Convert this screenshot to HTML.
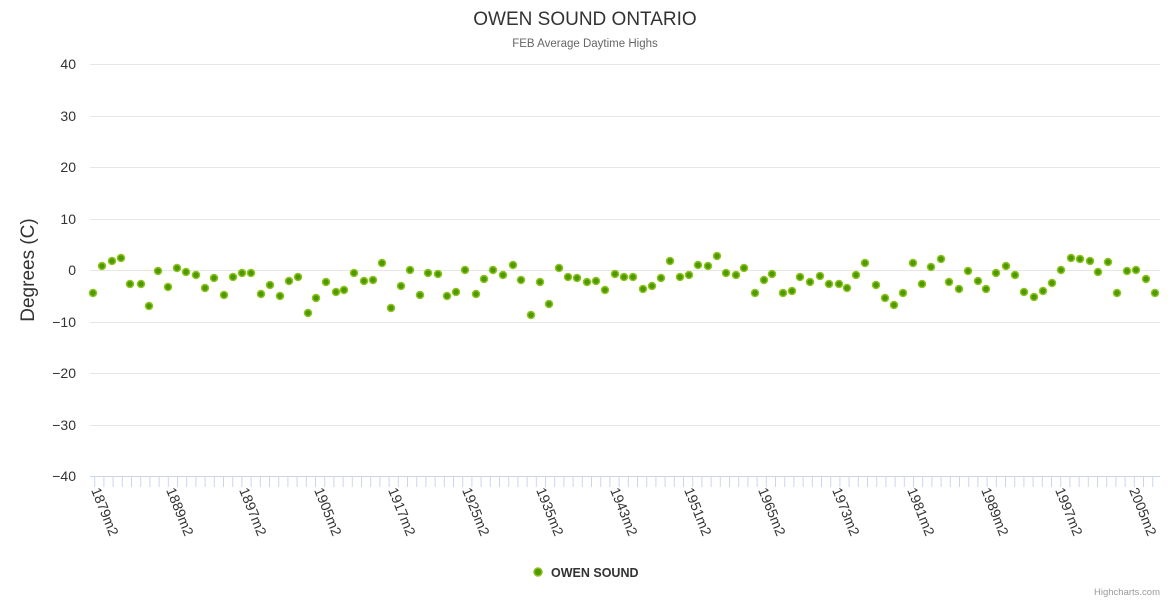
<!DOCTYPE html>
<html><head><meta charset="utf-8"><style>
html,body{margin:0;padding:0;background:#fff;}
svg{display:block;font-family:"Liberation Sans",sans-serif;}
</style></head><body>
<svg width="1170" height="600" viewBox="0 0 1170 600" xmlns="http://www.w3.org/2000/svg">
<text x="585" y="25" text-anchor="middle" font-size="19" fill="#333">OWEN SOUND ONTARIO</text>
<text x="585" y="47" text-anchor="middle" font-size="11.5" fill="#666">FEB Average Daytime Highs</text>
<g stroke="#e6e6e6" stroke-width="1">
<line x1="90" x2="1160" y1="64.5" y2="64.5"/><line x1="90" x2="1160" y1="116.5" y2="116.5"/>
<line x1="90" x2="1160" y1="167.5" y2="167.5"/><line x1="90" x2="1160" y1="219.5" y2="219.5"/>
<line x1="90" x2="1160" y1="270.5" y2="270.5"/><line x1="90" x2="1160" y1="322.5" y2="322.5"/>
<line x1="90" x2="1160" y1="373.5" y2="373.5"/><line x1="90" x2="1160" y1="425.5" y2="425.5"/>
</g>
<line x1="90" x2="1160" y1="476.5" y2="476.5" stroke="#ccd6eb"/>
<g id="ticks" stroke="#ccd6eb"></g>
<g font-size="14" fill="#333" text-anchor="end">
<text x="76" y="69">40</text><text x="76" y="121">30</text><text x="76" y="172">20</text>
<text x="76" y="224">10</text><text x="76" y="275">0</text><text x="76" y="327">−10</text>
<text x="76" y="378">−20</text><text x="76" y="430">−30</text><text x="76" y="481">−40</text>
</g>
<text transform="translate(34,270) rotate(-90)" text-anchor="middle" font-size="19" fill="#333">Degrees (C)</text>
<g id="xl" font-size="14" fill="#333"></g>
<g id="pts"></g>
<circle cx="538" cy="572" r="4" fill="#4d9a00" stroke="#8fc31f" stroke-width="1.5"/>
<text x="551" y="577" font-size="12.5" font-weight="bold" fill="#333">OWEN SOUND</text>
<text x="1160" y="595" text-anchor="end" font-size="9.5" fill="#999">Highcharts.com</text>
</svg>
<script>
var ns="http://www.w3.org/2000/svg";
var t=document.getElementById("ticks");
for(var i=0;i<=116;i++){var x=94.7+i*9.2;if(x>1161)break;var l=document.createElementNS(ns,"line");l.setAttribute("x1",x);l.setAttribute("x2",x);l.setAttribute("y1",477);l.setAttribute("y2",487);t.appendChild(l);}
var labs=[["1879m2",93],["1889m2",168],["1897m2",241],["1905m2",316],["1917m2",390],["1925m2",464],["1935m2",538],["1943m2",612],["1951m2",686],["1965m2",760],["1973m2",834],["1981m2",909],["1989m2",983],["1997m2",1057],["2005m2",1131]];
var xl=document.getElementById("xl");
labs.forEach(function(a){var e=document.createElementNS(ns,"text");e.setAttribute("transform","translate("+(a[1]-2)+",490) rotate(68)");e.textContent=a[0];xl.appendChild(e);});
var p=[[93,293],[102,266],[112,261],[121,258],[130,284],[141,284],[149,306],[158,271],[168,287],[177,268],[186,272],[196,275],[205,288],[214,278],[224,295],[233,277],[242,273],[251,273],[261,294],[270,285],[280,296],[289,281],[298,277],[308,313],[316,298],[326,282],[336,292],[344,290],[354,273],[364,281],[373,280],[382,263],[391,308],[401,286],[410,270],[420,295],[428,273],[438,274],[447,296],[456,292],[465,270],[476,294],[484,279],[493,270],[503,275],[513,265],[521,280],[531,315],[540,282],[549,304],[559,268],[568,277],[577,278],[587,282],[596,281],[605,290],[615,274],[624,277],[633,277],[643,289],[652,286],[661,278],[670,261],[680,277],[689,275],[698,265],[708,266],[717,256],[726,273],[736,275],[744,268],[755,293],[764,280],[772,274],[783,293],[792,291],[800,277],[810,282],[820,276],[829,284],[839,284],[847,288],[856,275],[865,263],[876,285],[885,298],[894,305],[903,293],[913,263],[922,284],[931,267],[941,259],[949,282],[959,289],[968,271],[978,281],[986,289],[996,273],[1006,266],[1015,275],[1024,292],[1034,297],[1043,291],[1052,283],[1061,270],[1071,258],[1080,259],[1090,261],[1098,272],[1108,262],[1117,293],[1127,271],[1136,270],[1146,279],[1155,293]];
var g=document.getElementById("pts");
p.forEach(function(a){var c=document.createElementNS(ns,"circle");c.setAttribute("cx",a[0]);c.setAttribute("cy",a[1]);c.setAttribute("r",3.5);c.setAttribute("fill","#4d9a00");c.setAttribute("stroke","#8fc31f");c.setAttribute("stroke-width","1.5");g.appendChild(c);});
</script>
</body></html>
